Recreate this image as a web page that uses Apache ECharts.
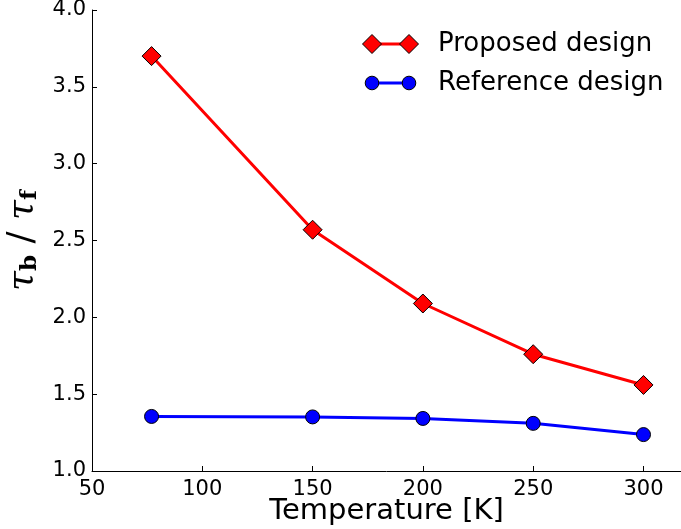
<!DOCTYPE html>
<html><head><meta charset="utf-8">
<script src="https://cdn.jsdelivr.net/npm/echarts@6/dist/echarts.min.js"></script>
<style>html,body{margin:0;padding:0;background:#fff}#c{width:681px;height:529px}</style>
</head><body><div id="c"></div>
<script>
const temperatures = [77, 150, 200, 250, 300];
const proposed = [3.70, 2.57, 2.09, 1.76, 1.56];
const reference = [1.355, 1.352, 1.342, 1.310, 1.237];
const seriesNames = ['Proposed design', 'Reference design'];

const chart = echarts.init(document.getElementById('c'), null, {renderer: 'canvas'});
const font = 'DejaVu Sans';

function legendItem(y, color, symbol, name) {
  const els = [{
    type: 'line', shape: {x1: 372, y1: y, x2: 409, y2: y},
    style: {stroke: color, lineWidth: 3}, z: 10
  }];
  [372, 409].forEach(x => {
    if (symbol === 'diamond') {
      els.push({type: 'polygon', shape: {points: [[x, y - 9.5], [x + 9.5, y], [x, y + 9.5], [x - 9.5, y]]},
        style: {fill: color, stroke: '#000', lineWidth: 1}, z: 11});
    } else {
      els.push({type: 'circle', shape: {cx: x, cy: y, r: 6.8},
        style: {fill: color, stroke: '#000', lineWidth: 1}, z: 11});
    }
  });
  els.push({type: 'text', x: 438, y: y, style: {text: name, fontFamily: font, fontSize: 26, fill: '#000', verticalAlign: 'middle'}, z: 11});
  return els;
}

chart.setOption({
  animation: false,
  backgroundColor: '#fff',
  grid: {left: 92, right: 0, top: 10, bottom: 58, outerBoundsMode: 'none', containLabel: false},
  graphic: [].concat(
    legendItem(44, '#ff0000', 'diamond', seriesNames[0]),
    legendItem(83, '#0000ff', 'circle', seriesNames[1])
  ),
  xAxis: {
    type: 'value', min: 50, max: 317, interval: 50,
    name: 'Temperature [K]', nameLocation: 'middle', nameGap: 26, nameMoveOverlap: false,
    nameTextStyle: {fontFamily: font, fontSize: 29, color: '#000'},
    axisLine: {lineStyle: {color: '#000', width: 1}},
    axisTick: {inside: true, length: 5, lineStyle: {color: '#000'}},
    axisLabel: {fontFamily: font, fontSize: 21, color: '#000', margin: 8, showMaxLabel: false},
    splitLine: {show: false}
  },
  yAxis: {
    type: 'value', min: 1.0, max: 4.0, interval: 0.5,
    name: '{t|τ}{s|b}{sl| / }{t|τ}{s|f}', nameLocation: 'middle', nameGap: 50, nameRotate: 90, nameMoveOverlap: false,
    nameTextStyle: {
      rich: {
        t: {fontFamily: 'DejaVu Serif', fontStyle: 'italic', fontSize: 36, color: '#000'},
        s: {fontFamily: 'DejaVu Serif', fontWeight: 'bold', fontSize: 23, color: '#000', padding: [16, 0, 0, 0]},
        sl: {fontFamily: font, fontSize: 36, color: '#000'}
      }
    },
    axisLine: {show: true, lineStyle: {color: '#000', width: 1}},
    axisTick: {show: true, inside: true, length: 5, lineStyle: {color: '#000'}},
    axisLabel: {fontFamily: font, fontSize: 21, color: '#000', margin: 6, formatter: v => v.toFixed(1)},
    splitLine: {show: false}
  },
  series: [
    {
      name: seriesNames[0], type: 'line',
      data: temperatures.map((t, i) => [t, proposed[i]]),
      symbol: 'diamond', symbolSize: [19, 19],
      lineStyle: {color: '#ff0000', width: 3},
      itemStyle: {color: '#ff0000', borderColor: '#000', borderWidth: 1},
      z: 3
    },
    {
      name: seriesNames[1], type: 'line',
      data: temperatures.map((t, i) => [t, reference[i]]),
      symbol: 'circle', symbolSize: 14,
      lineStyle: {color: '#0000ff', width: 3},
      itemStyle: {color: '#0000ff', borderColor: '#000', borderWidth: 1},
      z: 2
    }
  ]
});
</script></body></html>
